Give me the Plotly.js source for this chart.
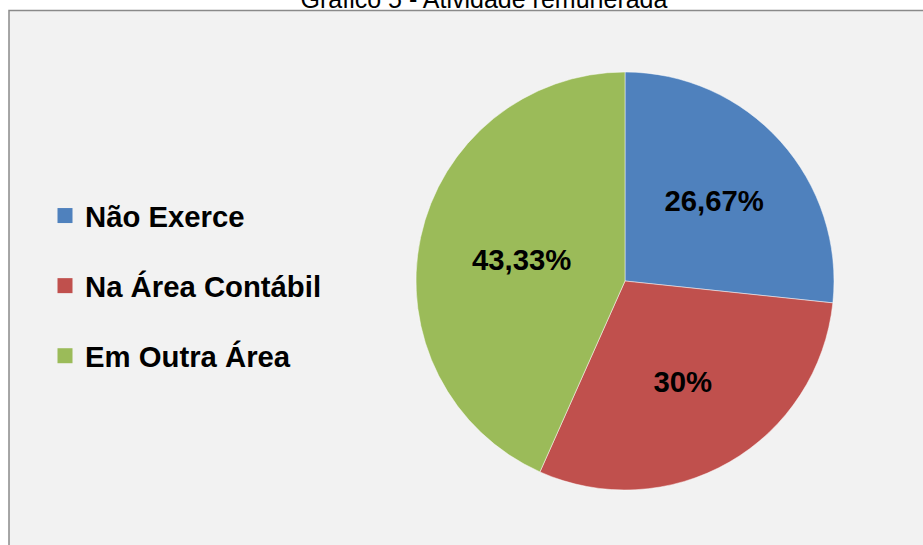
<!DOCTYPE html>
<html>
<head>
<meta charset="utf-8">
<script src="https://cdn.plot.ly/plotly-3.0.1.min.js"></script>
<style>
  html, body { margin: 0; padding: 0; background: #ffffff; }
  #chart { width: 923px; height: 545px; }
</style>
</head>
<body>
<div id="chart"></div>
<script>
// ---- data ----
const categories = ['Não Exerce', 'Na Área Contábil', 'Em Outra Área'];
const percentValues = [26.67, 30, 43.33];
const sliceColors = ['#4f81bd', '#c0504d', '#9bbb59'];
const chartTitle = 'Gráfico 5 - Atividade remunerada';

const W = 923, H = 545;
const FONT = 'Arial, "Liberation Sans", sans-serif';

const pieTrace = {
  type: 'pie',
  labels: categories,
  values: percentValues,
  sort: false,
  direction: 'clockwise',
  rotation: 0,
  marker: { colors: sliceColors, line: { color: 'rgba(255,255,255,0.6)', width: 0.8 } },
  texttemplate: '%{value:.2~f}%',
  textposition: 'inside',
  insidetextorientation: 'horizontal',
  textfont: { family: FONT, size: 29.3, weight: 'bold', color: '#000000' },
  showlegend: false,
  hoverinfo: 'label+percent',
  domain: { x: [416 / W, 834 / W], y: [1 - 490 / H, 1 - 72 / H] }
};

// legend entries (one per category, so they can be spaced like the original)
const legendTraces = categories.map((name, i) => ({
  type: 'scatter',
  mode: 'markers',
  x: [null], y: [null],
  name: name,
  legendgroup: 'g' + i,
  marker: { symbol: 'square', size: 15, color: sliceColors[i] },
  hoverinfo: 'skip'
}));

const layout = {
  width: W, height: H,
  margin: { l: 0, r: 0, t: 0, b: 0 },
  paper_bgcolor: '#ffffff',
  plot_bgcolor: 'rgba(0,0,0,0)',
  separators: ',.',
  title: {
    text: chartTitle,
    font: { family: FONT, size: 25, color: '#000000' },
    x: 484 / W, xref: 'container', xanchor: 'center',
    y: 1 - 8 / H, yref: 'container', yanchor: 'bottom'
  },
  xaxis: { visible: false },
  yaxis: { visible: false },
  showlegend: true,
  legend: {
    x: 45 / W, xanchor: 'left',
    y: 1 - 190 / H, yanchor: 'top',
    bgcolor: 'rgba(0,0,0,0)',
    font: { family: FONT, size: 29.3, weight: 'bold', color: '#000000' },
    tracegroupgap: 29,
    itemclick: false, itemdoubleclick: false
  },
  shapes: [{
    type: 'rect', xref: 'paper', yref: 'paper', layer: 'below',
    x0: 9 / W, x1: 1.02, y0: -0.02, y1: 1 - 10.5 / H,
    fillcolor: '#f2f2f2',
    line: { color: '#8a8a8a', width: 1.5 }
  }]
};

Plotly.newPlot('chart', [pieTrace].concat(legendTraces), layout, { displayModeBar: false, staticPlot: true });
</script>
</body>
</html>
